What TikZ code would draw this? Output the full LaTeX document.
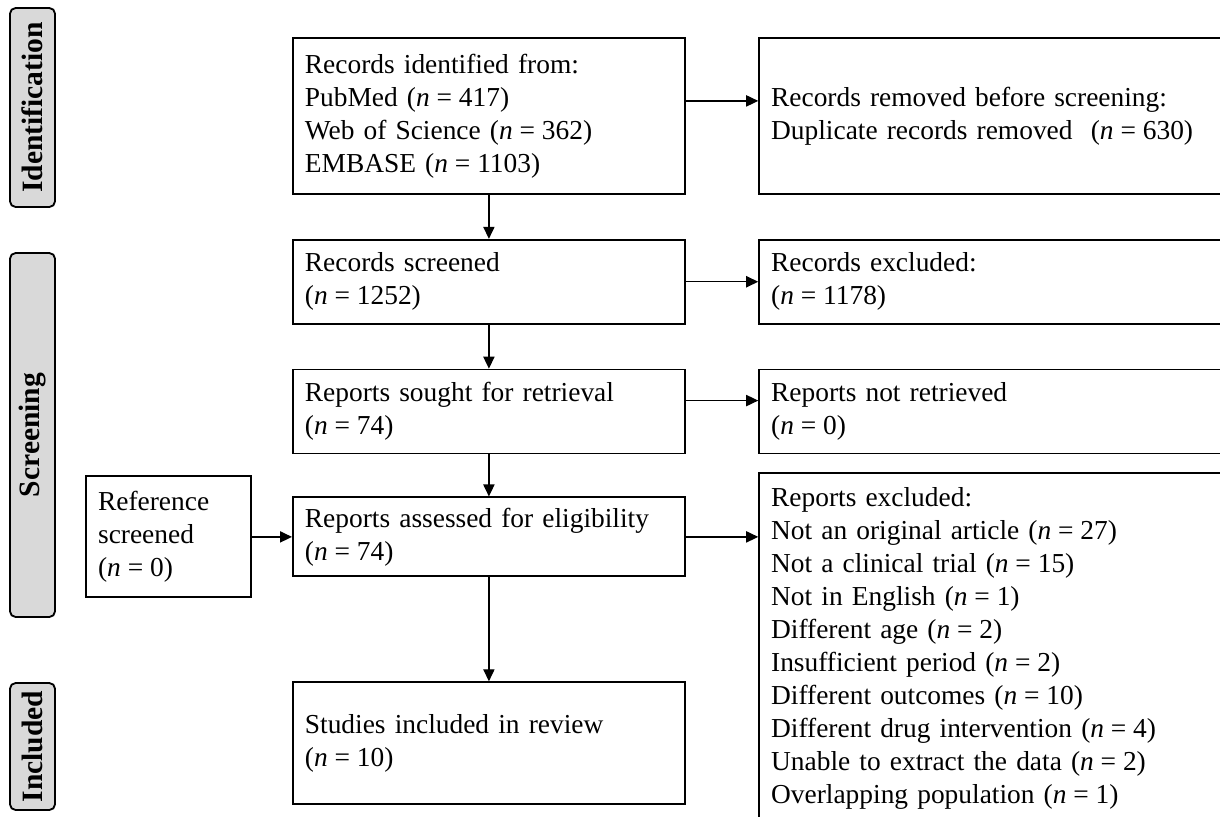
\documentclass[tikz,border=0pt]{standalone}
\usepackage{fontspec}
\setmainfont{Liberation Serif}
\usepackage{tikz}
\usetikzlibrary{arrows.meta,positioning}
\definecolor{phasegray}{HTML}{D9D9D9}
\newcommand{\nv}[1]{(\textit{n}\hspace{.25em}=\hspace{.25em}#1)}
\tikzset{
  box/.style={rectangle, draw=black, fill=white, line width=1.3pt, align=left,
              inner sep=0pt, inner xsep=3mm, font=\fontsize{19.5}{23.5}\selectfont},
  mainbox/.style={box, text width=92mm},
  sidebox/.style={box, text width=119mm},
  phase/.style={rectangle, rounded corners=4pt, draw=black, fill=phasegray, line width=1.3pt,
                rotate=90, minimum height=11.25mm, inner sep=0pt, font=\fontsize{21}{24}\selectfont\bfseries},
  flow/.style={-{Triangle[length=3mm, width=2.8mm]}, draw=black, line width=0.9pt}
}
\begin{document}
\begin{tikzpicture}
 \useasboundingbox (0,0) rectangle (30.5,-20.4);
 \clip (0,0) rectangle (30.5,-20.4);
 % phases
 \node[phase, minimum width=49.75mm] (idlab) at (0.8125,-2.6875) {Identification};
 \node[phase, minimum width=91mm] (scrlab) at (0.8125,-10.875) {Screening};
 \node[phase, minimum width=31.75mm] (inclab) at (0.8125,-18.6625) {Included};
 % main column
 \node[mainbox, minimum height=39mm, anchor=north west] (ident) at (7.3,-0.925)
   {Records identified from:\\PubMed \nv{417}\\Web of Science \nv{362}\\EMBASE \nv{1103}};
 \node[mainbox, minimum height=21mm, below=11mm of ident] (screen) {Records screened\\\nv{1252}};
 \node[mainbox, minimum height=21mm, below=11mm of screen] (sought) {Reports sought for retrieval\\\nv{74}};
 \node[mainbox, minimum height=19.75mm, below=10.5mm of sought] (assess) {Reports assessed for eligibility\\\nv{74}};
 \node[mainbox, minimum height=30.5mm, below=26mm of assess] (incl) {Studies included in review\\\nv{10}};
 % side boxes
 \node[sidebox, minimum height=39mm, right=18.1mm of ident] (removed)
   {Records removed before screening:\\Duplicate records removed~ \nv{630}};
 \node[sidebox, minimum height=21mm, right=18.1mm of screen] (excl) {Records excluded:\\\nv{1178}};
 \node[sidebox, minimum height=21mm, right=18.1mm of sought] (notret) {Reports not retrieved\\\nv{0}};
 \node[sidebox, inner ysep=3.5mm, below=4.5mm of notret] (repexcl)
   {Reports excluded:\\Not an original article \nv{27}\\Not a clinical trial \nv{15}\\Not in English \nv{1}\\
    Different age \nv{2}\\Insufficient period \nv{2}\\Different outcomes \nv{10}\\
    Different drug intervention \nv{4}\\Unable to extract the data \nv{2}\\Overlapping population \nv{1}};
 \node[box, text width=35.25mm, minimum height=30.25mm, left=10mm of assess] (refs) {Reference\\screened\\\nv{0}};
 % arrows
 \draw[flow] (ident) -- (screen);
 \draw[flow] (screen) -- (sought);
 \draw[flow] (sought) -- (assess);
 \draw[flow] (assess) -- (incl);
 \draw[flow] ([yshift=3.75mm]ident.east) -- ([yshift=3.75mm]removed.west);
 \draw[flow] (screen) -- (excl);
 \draw[flow] ([yshift=2.75mm]sought.east) -- ([yshift=2.75mm]notret.west);
 \draw[flow] (assess.east) -- (assess.east -| repexcl.west);
 \draw[flow] (refs) -- (assess);
\end{tikzpicture}
\end{document}
